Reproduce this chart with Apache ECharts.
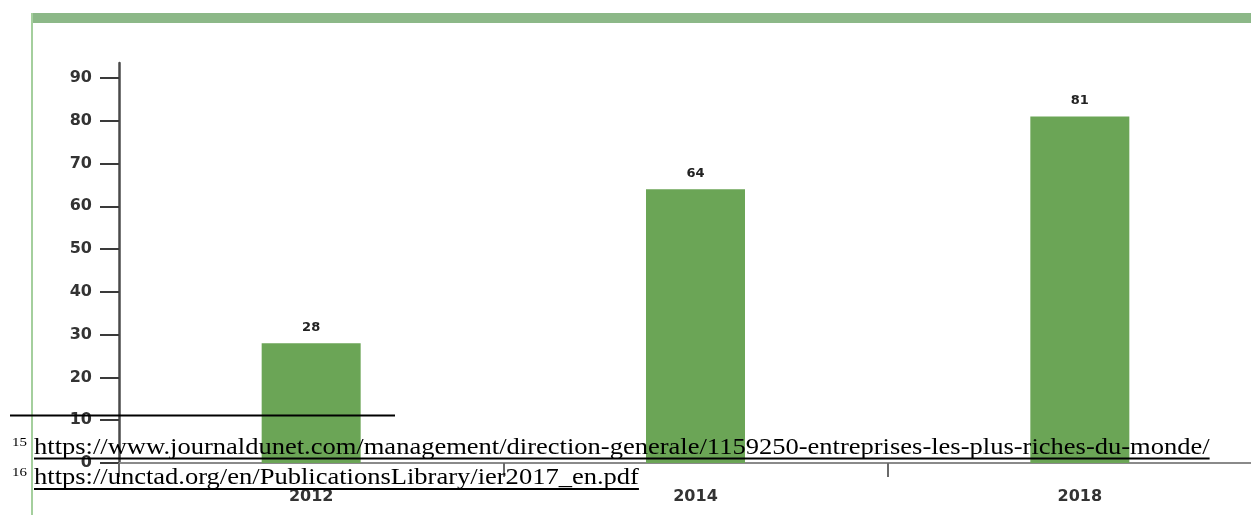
<!DOCTYPE html>
<html>
<head>
<meta charset="utf-8">
<style>
  html, body { margin: 0; padding: 0; background: #ffffff; overflow: hidden; }
  #chart { width: 1272px; height: 515px; }
</style>
<script src="https://cdn.jsdelivr.net/npm/echarts@6/dist/echarts.min.js"></script>
</head>
<body>
<div id="chart"></div>
<script>
// Years on the horizontal axis and the values of the bars
const years = ['2012', '2014', '2018'];
const values = [28, 64, 81];
// Ticks and labels of the vertical axis
const yTicks = [0, 10, 20, 30, 40, 50, 60, 70, 80, 90];

// Footnotes printed along the bottom of the page
const noteNumbers = ['15', '16'];
const noteLinks = [
  'https://www.journaldunet.com/management/direction-generale/1159250-entreprises-les-plus-riches-du-monde/',
  'https://unctad.org/en/PublicationsLibrary/ier2017_en.pdf'
];

const serif = '"Liberation Serif", "Times New Roman", serif';
const noteFontSize = 24;
const noteStretch = 1.105;

const measure = document.createElement('canvas').getContext('2d');
function textWidth(text, font) {
  measure.font = font;
  return measure.measureText(text).width;
}

const graphics = [
  // frame of the figure: thick top rule and thin left rule
  { type: 'rect', shape: { x: 31, y: 13, width: 1250, height: 10 },
    style: { fill: '#8cb888' }, z: 10 },
  { type: 'rect', shape: { x: 31, y: 13, width: 2, height: 510 },
    style: { fill: '#a4cf9d' }, z: 10 },
  // separator above the footnotes
  { type: 'line', shape: { x1: 10, y1: 415.5, x2: 395, y2: 415.5 },
    style: { stroke: '#000', lineWidth: 2 }, z: 20 }
];

noteLinks.forEach(function (link, i) {
  const rowY = 447.5 + i * 30.5;
  graphics.push({
    type: 'text', x: 12, y: rowY - 5, scaleX: 1.15, z: 20,
    style: { text: noteNumbers[i], font: '13px ' + serif, fill: '#000',
             textAlign: 'left', textVerticalAlign: 'middle' }
  });
  graphics.push({
    type: 'text', x: 34, y: rowY, scaleX: noteStretch, z: 20,
    style: { text: link, font: noteFontSize + 'px ' + serif, fill: '#000',
             textAlign: 'left', textVerticalAlign: 'middle' }
  });
  const w = textWidth(link, noteFontSize + 'px ' + serif) * noteStretch;
  graphics.push({
    type: 'line', z: 20,
    shape: { x1: 34, y1: rowY + 11, x2: 34 + w, y2: rowY + 11 },
    style: { stroke: '#000', lineWidth: 2 }
  });
});

const chart = echarts.init(document.getElementById('chart'), null, { renderer: 'canvas' });

chart.setOption({
  backgroundColor: '#ffffff',
  animation: false,
  grid: { left: 119, top: 63, bottom: 52, right: 0, containLabel: false,
          outerBoundsMode: 'none' },
  xAxis: {
    type: 'category',
    data: years,
    axisLine: { lineStyle: { color: '#8a8a8a', width: 2 } },
    axisTick: { show: true, length: 14, lineStyle: { color: '#6a6a6a', width: 2 } },
    axisLabel: {
      margin: 26, color: '#333',
      fontFamily: '"DejaVu Sans", sans-serif', fontWeight: 'bold', fontSize: 16
    },
    splitLine: { show: false }
  },
  yAxis: {
    type: 'value',
    min: 0,
    max: 93.5,
    axisLine: { show: true, lineStyle: { color: '#4a4a4a', width: 2.5 } },
    axisTick: { show: true, length: 19, customValues: yTicks,
                lineStyle: { color: '#3a3a3a', width: 2 } },
    axisLabel: {
      customValues: yTicks,
      margin: 27, color: '#333',
      fontFamily: '"DejaVu Sans", sans-serif', fontWeight: 'bold', fontSize: 16
    },
    splitLine: { show: false }
  },
  series: [{
    type: 'bar',
    data: values,
    barWidth: 99,
    itemStyle: { color: '#6ba556' },
    label: {
      show: true, position: 'top', distance: 9,
      color: '#222', fontFamily: '"DejaVu Sans", sans-serif',
      fontWeight: 'bold', fontSize: 13
    }
  }],
  graphic: graphics
});
</script>
</body>
</html>
